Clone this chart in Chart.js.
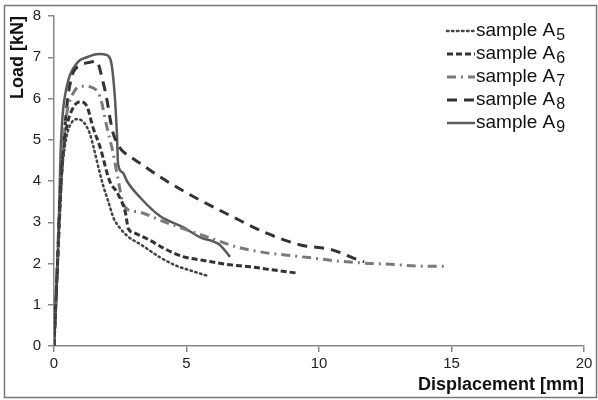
<!DOCTYPE html>
<html>
<head>
<meta charset="utf-8">
<script src="https://cdn.jsdelivr.net/npm/chart.js@4.4.0/dist/chart.umd.min.js"></script>
<style>
  html, body { margin: 0; padding: 0; background: #fff; }
  #wrap { width: 598px; height: 400px; }
</style>
</head>
<body>
<div id="wrap"><canvas id="load_disp"></canvas></div>
<script>
// displacement [mm] / load [kN]
var a5X = [0, 0.1, 0.2, 0.3, 0.45, 0.65, 0.9, 1.15, 1.35, 1.5, 1.65, 1.85, 2.05, 2.25, 2.5, 2.8, 3.3, 4.0, 4.6, 5.2, 5.8];
var a5Y = [0, 1.5, 3, 4.2, 5.0, 5.4, 5.5, 5.4, 5.15, 4.8, 4.4, 3.9, 3.5, 3.1, 2.85, 2.65, 2.45, 2.15, 1.95, 1.82, 1.7];

var a6X = [0, 0.1, 0.2, 0.3, 0.45, 0.7, 1.0, 1.25, 1.47, 1.74, 2.1, 2.4, 2.7, 2.8, 3.0, 3.6, 4.2, 4.9, 5.6, 6.5, 7.4, 8.3, 9.15];
var a6Y = [0, 1.5, 3, 4.3, 5.2, 5.75, 5.92, 5.8, 5.3, 4.82, 4.0, 3.7, 3.22, 2.85, 2.75, 2.57, 2.35, 2.16, 2.08, 1.98, 1.92, 1.84, 1.77];

var a7X = [0, 0.1, 0.2, 0.3, 0.45, 0.7, 1.1, 1.5, 1.74, 2.0, 2.23, 2.4, 2.6, 2.8, 3.2, 4.0, 4.9, 5.9, 6.9, 7.9, 8.8, 9.8, 10.7, 11.7, 12.7, 13.7, 14.8];
var a7Y = [0, 1.5, 3, 4.4, 5.5, 6.1, 6.3, 6.25, 6.04, 5.3, 4.68, 4.1, 3.47, 3.3, 3.25, 3.05, 2.84, 2.62, 2.4, 2.27, 2.2, 2.13, 2.06, 2.01, 1.98, 1.94, 1.93];

var a8X = [0, 0.1, 0.2, 0.35, 0.5, 0.68, 1.0, 1.36, 1.6, 1.85, 2.0, 2.12, 2.23, 2.4, 2.55, 2.9, 3.25, 4.0, 4.9, 5.5, 6.75, 8.0, 9.3, 10.5, 11.3, 11.7];
var a8Y = [0, 1.5, 3.2, 4.8, 5.9, 6.55, 6.8, 6.88, 6.9, 6.4, 5.96, 5.5, 5.16, 4.9, 4.75, 4.58, 4.43, 4.1, 3.75, 3.54, 3.13, 2.74, 2.45, 2.33, 2.13, 2.04];

var a9X = [0, 0.1, 0.15, 0.2, 0.25, 0.32, 0.48, 0.87, 1.24, 1.7, 2.0, 2.18, 2.3, 2.37, 2.42, 2.6, 2.75, 3.25, 4.0, 4.87, 5.5, 6.26, 6.64];
var a9Y = [0, 1.5, 2.3, 3.5, 4.7, 5.55, 6.28, 6.86, 7.0, 7.08, 7.05, 6.8, 6.0, 5.2, 4.4, 4.2, 4.0, 3.6, 3.15, 2.88, 2.64, 2.45, 2.16];

var seriesNames = ["sample A", "sample A", "sample A", "sample A", "sample A"];
var seriesSubs = ["5", "6", "7", "8", "9"];
var xTicks = [0, 5, 10, 15, 20];
var yTicks = [0, 1, 2, 3, 4, 5, 6, 7, 8];

function pts(xs, ys) {
  var out = [];
  for (var i = 0; i < xs.length; i++) out.push({ x: xs[i], y: ys[i] });
  return out;
}

var styles = [
  { color: "#444", width: 2.5, dash: [1.5, 3.5], cap: "round" },
  { color: "#333", width: 3, dash: [6, 3], cap: "butt" },
  { color: "#7a7a7a", width: 3, dash: [9, 5, 2, 5], cap: "butt" },
  { color: "#333", width: 3, dash: [10, 7], cap: "butt" },
  { color: "#5a5a5a", width: 2.5, dash: [], cap: "butt" }
];

var allX = [a5X, a6X, a7X, a8X, a9X];
var allY = [a5Y, a6Y, a7Y, a8Y, a9Y];
var datasets = [];
for (var i = 0; i < 5; i++) {
  datasets.push({
    label: seriesNames[i] + seriesSubs[i],
    data: pts(allX[i], allY[i]),
    showLine: true,
    borderColor: styles[i].color,
    borderWidth: styles[i].width,
    borderDash: styles[i].dash,
    borderCapStyle: styles[i].cap,
    pointRadius: 0,
    cubicInterpolationMode: "monotone",
    fill: false
  });
}

var FONT = "'Liberation Sans', Arial, sans-serif";

// frame round the whole picture
var framePlugin = {
  id: "frame",
  beforeDraw: function (chart) {
    var c = chart.ctx;
    c.save();
    c.fillStyle = "#fff";
    c.fillRect(0, 0, chart.width, chart.height);
    c.strokeStyle = "#777";
    c.lineWidth = 1.5;
    c.strokeRect(4.5, 5.5, 592, 392);
    c.restore();
  }
};

// legend with subscript digits
var legendPlugin = {
  id: "subLegend",
  afterDraw: function (chart) {
    var c = chart.ctx;
    var rows = [31, 54, 77, 100, 123];
    c.save();
    for (var i = 0; i < 5; i++) {
      var y = rows[i];
      c.beginPath();
      c.strokeStyle = styles[i].color;
      c.lineWidth = styles[i].width;
      c.lineCap = styles[i].cap;
      c.setLineDash(styles[i].dash);
      c.moveTo(447, y);
      c.lineTo(475, y);
      c.stroke();
      c.setLineDash([]);
      c.fillStyle = "#111";
      c.textBaseline = "middle";
      c.font = "19px " + FONT;
      c.fillText(seriesNames[i], 476, y);
      var w = c.measureText(seriesNames[i]).width;
      c.font = "16px " + FONT;
      c.fillText(seriesSubs[i], 476 + w + 1, y + 5);
    }
    c.restore();
  }
};

var ctx = document.getElementById("load_disp");
var myChart = new Chart(ctx, {
  type: "scatter",
  data: { datasets: datasets },
  plugins: [framePlugin, legendPlugin],
  options: {
    responsive: true,
    maintainAspectRatio: false,
    animation: false,
    layout: { padding: { left: 0, right: 14, top: 16, bottom: 0 } },
    plugins: { legend: { display: false }, tooltip: { enabled: false } },
    scales: {
      x: {
        type: "linear",
        min: 0, max: 20,
        afterBuildTicks: function (s) { s.ticks = xTicks.map(function (v) { return { value: v }; }); },
        afterFit: function (s) { s.height = 54; },
        grid: { drawOnChartArea: false, drawTicks: true, tickLength: 6, color: "#888", lineWidth: 1.5 },
        border: { color: "#888", width: 1.5 },
        ticks: { color: "#222", font: { family: FONT, size: 15 }, padding: 3, maxRotation: 0 },
        title: { display: true, text: "Displacement [mm]", align: "end", color: "#111",
                 font: { family: FONT, size: 18, weight: "bold" }, padding: { top: 0, bottom: 4 } }
      },
      y: {
        type: "linear",
        min: 0, max: 8,
        afterBuildTicks: function (s) { s.ticks = yTicks.map(function (v) { return { value: v }; }); },
        afterFit: function (s) { s.width = 54; },
        grid: { drawOnChartArea: false, drawTicks: true, tickLength: 6, color: "#888", lineWidth: 1.5 },
        border: { color: "#888", width: 1.5 },
        ticks: { color: "#222", font: { family: FONT, size: 15 }, padding: 7 },
        title: { display: true, text: "Load [kN]", align: "end", color: "#111",
                 font: { family: FONT, size: 18, weight: "bold" }, padding: { top: 7, bottom: 0 } }
      }
    }
  }
});
</script>
</body>
</html>
